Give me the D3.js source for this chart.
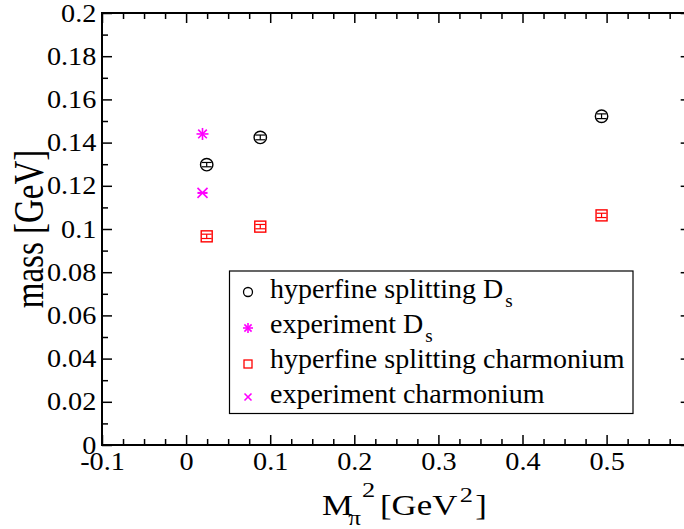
<!DOCTYPE html>
<html>
<head>
<meta charset="utf-8">
<script src="https://cdn.jsdelivr.net/npm/d3@7"></script>
<style>
  body { margin: 0; background: #fff; }
</style>
</head>
<body>
<div id="chart"></div>
<script>
// DATA
const xLattice = [0.0245, 0.0882, 0.494];          // M_pi^2 of the three ensembles
const hfsDs = [0.1298, 0.1424, 0.1522];             // hyperfine splitting D_s
const hfsDsErr = [0.0010, 0.0011, 0.0011];
const hfsCharm = [0.0966, 0.1011, 0.1063];          // hyperfine splitting charmonium
const hfsCharmErr = [0.0010, 0.0010, 0.0010];
const xPhys = [0.0195];                             // physical point
const expDs = [0.1440];
const expCharm = [0.1167];
const expErr = [0.0002];

const xTicks = [-0.1, 0, 0.1, 0.2, 0.3, 0.4, 0.5];
const xTickLabels = ["-0.1", "0", "0.1", "0.2", "0.3", "0.4", "0.5"];
const yTicks = [0, 0.02, 0.04, 0.06, 0.08, 0.1, 0.12, 0.14, 0.16, 0.18, 0.2];
const yTickLabels = ["0", "0.02", "0.04", "0.06", "0.08", "0.1", "0.12", "0.14", "0.16", "0.18", "0.2"];

const legendLabels = [
  ["hyperfine splitting D", "s"],
  ["experiment D", "s"],
  ["hyperfine splitting charmonium", ""],
  ["experiment charmonium", ""]
];

// 1: LAYOUT
const W = 684, H = 529;
const plot = { left: 102, right: 690.7, top: 13, bottom: 445 };
const FONT = "'Liberation Serif', 'Times New Roman', serif";
const magenta = "#ff00ff", red = "#ff0000";

const svg = d3.select("#chart").append("svg")
  .attr("width", W).attr("height", H);

const x = d3.scaleLinear().domain([-0.1, 0.6]).range([plot.left, plot.right]);
const y = d3.scaleLinear().domain([0, 0.2]).range([plot.bottom, plot.top]);

// 2: AXES (ticks point inward on all four sides)
const xMinor = d3.range(-0.1, 0.6001, 0.025).filter(v => Math.abs(v * 10 - Math.round(v * 10)) > 1e-6);
const yMinor = d3.range(0.01, 0.2, 0.02);

function addAxis(axisFn, scale, pos, values, size, labels) {
  const ax = axisFn(scale).tickValues(values).tickSizeInner(-size).tickSizeOuter(0);
  if (labels) ax.tickFormat((d, i) => labels[i]).tickPadding(axisFn === d3.axisLeft ? 5 : 7);
  else ax.tickFormat("");
  const g = svg.append("g").attr("transform", pos).call(ax);
  g.select(".domain").remove();
  g.selectAll(".tick line").attr("stroke", "#000").attr("stroke-width", 1.5);
  return g;
}

const gx = addAxis(d3.axisBottom, x, `translate(0,${plot.bottom})`, xTicks, 10, xTickLabels);
addAxis(d3.axisBottom, x, `translate(0,${plot.bottom})`, xMinor, 6);
addAxis(d3.axisTop, x, `translate(0,${plot.top})`, xTicks, 10);
addAxis(d3.axisTop, x, `translate(0,${plot.top})`, xMinor, 6);
const gy = addAxis(d3.axisLeft, y, `translate(${plot.left},0)`, yTicks, 10, yTickLabels);
addAxis(d3.axisLeft, y, `translate(${plot.left},0)`, yMinor, 6);
addAxis(d3.axisRight, y, `translate(${plot.right},0)`, yTicks, 10);
addAxis(d3.axisRight, y, `translate(${plot.right},0)`, yMinor, 6);

[gx, gy].forEach(g => g.selectAll(".tick text")
  .style("font-family", FONT)
  .style("font-size", "25px")
  .attr("fill", "#000")
  .attr("transform", "scale(1.13,1)"));

svg.append("rect")
  .attr("x", plot.left).attr("y", plot.top)
  .attr("width", plot.right - plot.left).attr("height", plot.bottom - plot.top)
  .attr("fill", "none").attr("stroke", "#000").attr("stroke-width", 2);

// 3: AXIS LABELS
const xl = svg.append("text")
  .attr("transform", `translate(322,515) scale(1.2,1)`)
  .style("font-family", FONT)
  .style("font-size", "29px");
xl.append("tspan").text("M");
xl.append("tspan").attr("dx", -4).attr("dy", 10).style("font-size", "21px").text("π");
xl.append("tspan").attr("dx", 1).attr("dy", -28).style("font-size", "22px").text("2");
xl.append("tspan").attr("dx", 4).attr("dy", 18).text("[GeV");
xl.append("tspan").attr("dx", 2).attr("dy", -13).style("font-size", "22px").text("2");
xl.append("tspan").attr("dx", 2).attr("dy", 13).text("]");

svg.append("text")
  .attr("transform", `translate(43,${(plot.top + plot.bottom) / 2}) scale(1.25,1) rotate(-90)`)
  .attr("text-anchor", "middle")
  .style("font-family", FONT)
  .style("font-size", "33px")
  .text("mass [GeV]");

// 4: MARKER SHAPES
function star(g, cx, cy, r, color) {
  [[0, r], [r, 0], [r * 0.72, r * 0.72], [r * 0.72, -r * 0.72]].forEach(([dx, dy]) => {
    g.append("line").attr("x1", cx - dx).attr("y1", cy - dy).attr("x2", cx + dx).attr("y2", cy + dy)
      .attr("stroke", color).attr("stroke-width", 1.6);
  });
}
function cross(g, cx, cy, r, color) {
  [[r, r], [r, -r]].forEach(([dx, dy]) => {
    g.append("line").attr("x1", cx - dx).attr("y1", cy - dy).attr("x2", cx + dx).attr("y2", cy + dy)
      .attr("stroke", color).attr("stroke-width", 1.6);
  });
}
function errBar(g, xv, yv, ev, color) {
  const cx = x(xv), y1 = y(yv - ev), y2 = y(yv + ev);
  g.append("line").attr("x1", cx).attr("x2", cx).attr("y1", y1).attr("y2", y2)
    .attr("stroke", color).attr("stroke-width", 1.2);
  [y1, y2].forEach(yy => g.append("line").attr("x1", cx - 5).attr("x2", cx + 5)
    .attr("y1", yy).attr("y2", yy).attr("stroke", color).attr("stroke-width", 1.2));
}

// 5: DATA POINTS
const pts = svg.append("g");
xLattice.forEach((xv, i) => {
  errBar(pts, xv, hfsDs[i], hfsDsErr[i], "#000");
  pts.append("circle").attr("cx", x(xv)).attr("cy", y(hfsDs[i])).attr("r", 6.2)
    .attr("fill", "none").attr("stroke", "#000").attr("stroke-width", 1.4);
  errBar(pts, xv, hfsCharm[i], hfsCharmErr[i], red);
  pts.append("rect").attr("x", x(xv) - 5.5).attr("y", y(hfsCharm[i]) - 5.5)
    .attr("width", 11).attr("height", 11)
    .attr("fill", "none").attr("stroke", red).attr("stroke-width", 1.4);
});
xPhys.forEach((xv, i) => {
  star(pts, x(xv), y(expDs[i]), 6, magenta);
  errBar(pts, xv, expCharm[i], expErr[i], magenta);
  cross(pts, x(xv), y(expCharm[i]), 5, magenta);
});

// 6: LEGEND
const lg = svg.append("g");
lg.append("rect")
  .attr("x", 229.5).attr("y", 271).attr("width", 403.5).attr("height", 142.5)
  .attr("fill", "#fff").attr("stroke", "#000").attr("stroke-width", 1.2);

legendLabels.forEach((lab, i) => {
  const base = 298 + i * 35;
  const sx = 248, sy = base - 5;
  if (i === 0) lg.append("circle").attr("cx", sx).attr("cy", sy - 1).attr("r", 4.5)
    .attr("fill", "none").attr("stroke", "#000").attr("stroke-width", 1.3);
  if (i === 1) star(lg, sx, sy, 5, magenta);
  if (i === 2) lg.append("rect").attr("x", sx - 4).attr("y", sy - 3).attr("width", 8).attr("height", 8)
    .attr("fill", "none").attr("stroke", red).attr("stroke-width", 1.3);
  if (i === 3) cross(lg, sx, sy - 1, 3.5, magenta);

  const t = lg.append("text").attr("x", 270).attr("y", base)
    .style("font-family", FONT).style("font-size", "28px");
  t.append("tspan").text(lab[0]);
  if (lab[1]) t.append("tspan").attr("dx", 2).attr("dy", 9).style("font-size", "19px").text(lab[1]);
});
</script>
</body>
</html>
